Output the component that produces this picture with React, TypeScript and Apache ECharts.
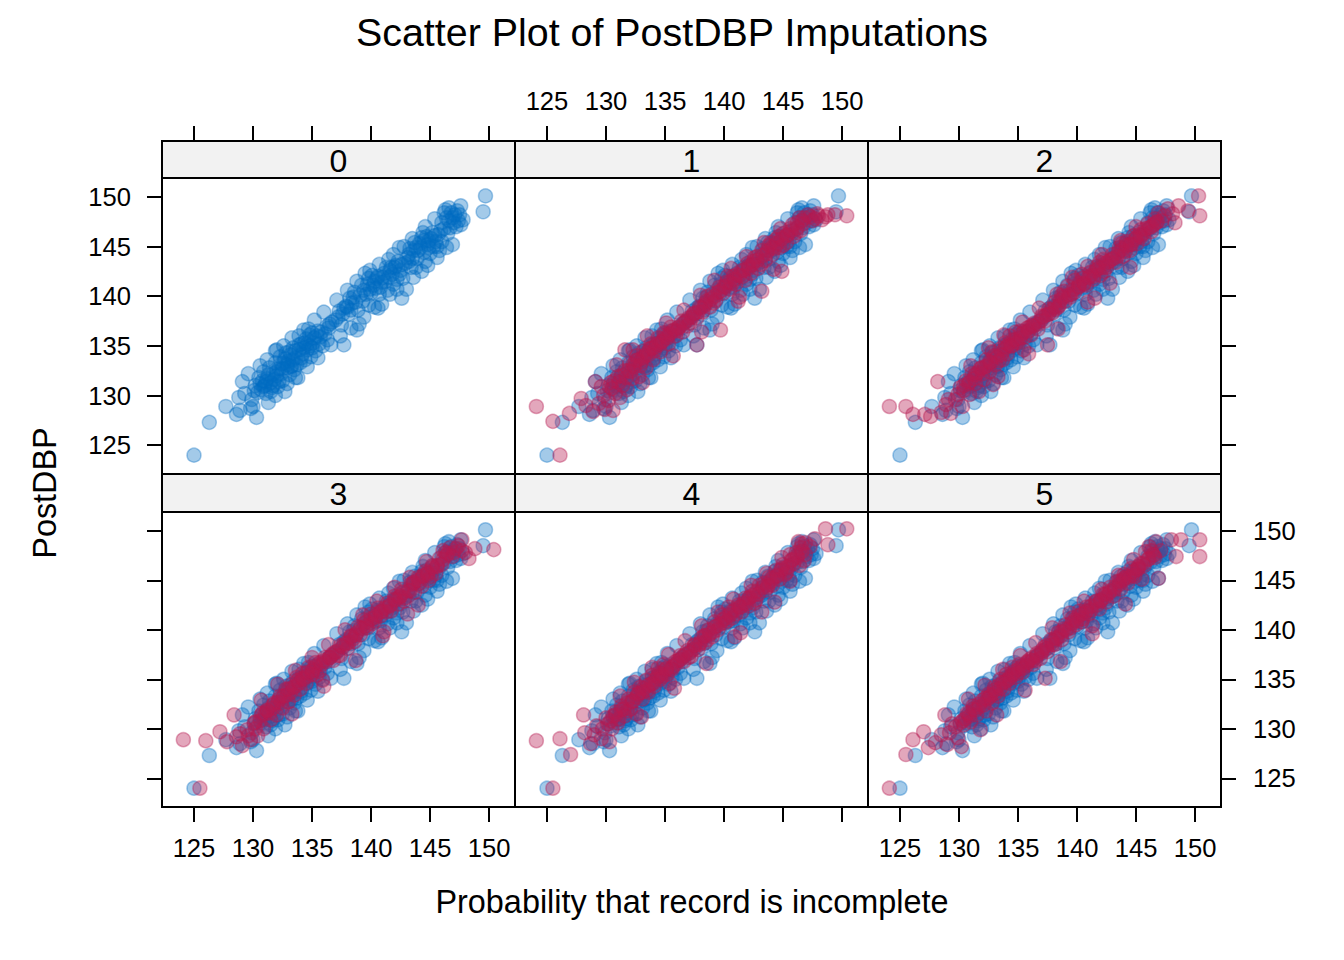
import React, { useEffect, useRef } from "react";
import * as echarts from "echarts";

const TITLE = "Scatter Plot of PostDBP Imputations";
const X_LABEL = "Probability that record is incomplete";
const Y_LABEL = "PostDBP";
const PANEL_LABELS = ["0", "1", "2", "3", "4", "5"];
const X_TICKS = [125, 130, 135, 140, 145, 150];
const Y_TICKS = [125, 130, 135, 140, 145, 150];

// observed (blue), identical in every panel
const OBSERVED: number[][] = [
  [125.0,124.0],[126.3,127.3],[127.7,128.9],[128.6,128.1],[128.8,129.8],[128.9,128.5],
  [129.1,131.4],[129.3,130.2],[129.6,132.2],[129.8,128.7],[130.0,128.9],[129.9,129.6],
  [130.3,127.8],[130.2,131.0],[130.4,130.3],[130.5,131.8],[130.7,130.6],[130.8,131.5],[130.9,132.4],
  [131.0,131.0],[131.1,130.2],[131.2,131.7],[131.3,129.3],[131.4,132.8],[131.5,131.3],[131.6,130.8],[131.7,132.2],[131.8,131.6],[131.9,133.3],
  [132.0,132.0],[132.0,134.6],[132.1,130.9],[132.2,132.7],[132.3,133.9],[132.4,132.2],[132.5,131.5],[132.6,133.3],[132.7,130.4],[132.8,134.3],[132.9,132.8],
  [133.0,133.5],[133.1,132.1],[133.2,134.1],[133.3,133.0],[133.4,134.8],[133.5,132.6],[133.6,133.8],[133.8,131.8],[133.9,136.0],[133.9,134.6],
  [134.0,133.3],[134.1,135.2],[134.2,134.2],[134.4,133.6],[134.5,135.7],[134.6,134.6],[134.7,136.7],[134.8,135.0],[134.9,133.9],
  [135.0,136.3],[135.1,135.3],[135.3,134.5],[135.4,136.0],[135.6,135.2],[135.8,136.4],[135.9,135.0],
  [136.1,136.2],[136.3,137.0],[136.4,136.8],[136.5,137.2],[136.3,135.6],[136.7,137.4],
  [137.0,137.6],[137.3,138.5],[137.5,137.1],[137.7,135.1],[137.7,138.8],[137.9,139.0],
  [138.1,138.2],[138.2,139.8],[138.4,139.3],[138.6,140.4],[138.8,136.6],[138.9,138.6],[139.0,137.2],
  [139.2,141.1],[139.3,139.5],[139.5,142.3],[139.6,140.2],[139.8,141.8],[139.8,139.1],[139.9,140.7],
  [140.1,142.1],[140.2,141.1],[140.4,140.8],[140.5,141.8],[140.6,138.8],[140.7,140.2],[140.9,139.2],[140.9,141.4],
  [141.1,142.3],[141.2,141.5],[141.4,140.6],[141.5,143.7],[141.6,142.6],[141.8,142.2],[141.9,141.2],
  [142.0,142.9],[142.2,141.7],[142.3,143.5],[142.5,142.6],[142.6,139.8],[142.7,141.8],[142.8,145.0],[142.9,143.3],
  [143.0,140.7],[143.2,144.2],[143.2,143.5],[143.4,142.9],[143.6,144.6],[143.8,142.9],[143.8,144.9],[143.9,143.8],
  [144.1,145.3],[144.3,145.9],[144.3,142.5],[144.4,146.4],[144.5,144.4],[144.6,143.5],[144.8,145.2],[144.9,145.6],
  [145.0,144.3],[145.2,146.4],[145.3,145.0],[145.5,145.5],[145.7,146.2],[145.8,144.6],[146.0,145.5],[146.0,147.4],
  [146.3,148.7],[146.5,146.3],[146.6,147.6],[146.6,148.9],[146.7,146.9],[146.9,145.2],[146.9,147.9],
  [147.1,148.2],[147.2,147.0],[147.4,147.6],[147.6,149.1],[147.6,147.2],
  [149.5,148.5],[149.7,150.1],
  [130.1,130.5],[130.6,131.2],[130.9,130.9],[131.1,131.4],[131.3,132.1],[131.5,130.4],[131.7,131.0],[132.0,132.4],[132.2,131.4],
  [132.4,133.2],[132.5,132.7],[132.7,133.7],[132.9,133.1],[133.1,134.4],[133.2,132.9],[133.4,133.6],[133.6,134.5],[133.7,133.1],
  [133.9,135.1],[134.1,133.8],[134.3,134.8],[134.4,135.3],[134.6,135.2],[134.8,136.1],[135.0,134.8],[135.2,135.8],[135.5,136.5],
  [135.7,135.9],[137.2,137.9],[137.6,138.2],[138.0,138.9],[138.3,138.6],[138.5,139.9],[138.7,139.4],[139.1,140.1],[139.4,140.6],
  [139.7,141.2],[140.0,140.3],[140.3,141.5],[140.6,142.0],[140.8,140.9],[141.0,141.9],[141.3,142.9],[141.5,141.9],[141.7,142.9],
  [142.1,143.1],[142.4,142.2],[142.6,143.2],[143.1,143.9],[143.3,144.8],[143.5,143.8],[143.7,145.4],[144.0,144.6],[144.2,144.9],
  [144.5,145.6],[144.7,146.0],[144.9,144.9],[145.1,145.8],[145.4,146.1],[145.6,145.0],[145.9,146.6],[146.2,146.8],[146.4,147.9],
  [146.8,148.4],[147.0,147.4],[147.3,148.6],[147.5,148.2],[147.8,147.7],
  [130.6,133.0],[131.2,133.6],[131.9,134.5],[132.6,135.0],[133.3,135.8],[134.3,136.6],[135.2,137.6],[136.0,138.4],[137.1,139.6],
  [138.0,140.6],[138.8,141.5],[139.9,142.6],[140.7,143.2],[141.9,144.2],[142.4,144.9],[143.5,145.8],[144.6,147.0],[145.4,147.8],
  [146.2,148.4],[131.9,130.0],[132.9,131.2],[133.6,131.8],[134.6,132.9],[135.5,133.8],[136.6,135.1],[137.4,136.0],[138.3,136.8],
  [139.4,137.9],[140.3,138.9],[141.6,140.2],[142.2,140.7],[143.6,141.9],[144.8,143.1],[145.6,143.9],[146.4,144.9],
];

// imputed (red), one array per imputation 1..5
const IMPUTED_1: number[][] = [
  [124.1,128.9],[125.5,127.4],[126.1,124.0],[126.9,128.2],[127.9,129.7],[129.1,131.4],[131.6,134.6],[137.7,135.1],[150.4,148.1],
  [128.3,129.0],[128.9,128.4],[129.4,129.2],[129.6,130.9],[129.9,128.6],[130.2,129.5],[130.4,131.3],[130.6,128.5],[130.8,130.2],
  [131.0,131.9],[131.2,129.8],[131.4,131.0],[131.6,132.5],[131.8,130.6],[132.0,133.2],[132.2,131.7],[132.4,132.9],[132.6,134.0],
  [132.8,131.9],[133.0,133.4],[133.2,134.5],[133.4,132.8],[133.6,134.1],[133.8,135.2],[134.0,133.6],[134.2,134.9],[134.4,135.8],
  [134.6,134.4],[134.8,135.5],[135.0,136.1],[135.3,135.2],[135.6,136.5],[135.9,136.0],[136.2,136.9],[136.5,136.4],[136.8,137.5],
  [137.1,137.3],[137.4,138.2],[137.7,137.8],[137.9,138.9],[138.2,138.4],[138.5,139.5],[138.8,138.9],[139.0,140.2],[139.3,139.6],
  [139.6,140.9],[139.7,136.6],[139.9,140.3],[140.2,141.4],[140.5,140.7],[140.8,142.0],[141.0,141.2],[141.3,139.9],[141.5,142.6],
  [141.8,141.6],[142.0,143.3],[142.3,142.3],[142.6,143.9],[142.9,142.8],[143.2,140.5],[143.2,144.6],[143.5,143.6],[143.8,145.1],
  [144.1,144.2],[144.4,145.7],[144.7,144.9],[144.9,142.5],[145.0,146.3],[145.3,145.4],[145.6,146.8],[145.9,146.0],[146.2,147.4],
  [146.5,146.6],[146.8,147.9],[147.1,148.2],[147.5,147.6],[147.9,148.3],[148.3,147.7],[148.8,148.2],[149.4,148.2],
  [129.8,130.0],[130.5,130.7],[131.1,131.3],[131.7,131.8],[132.1,132.4],[132.5,133.5],[132.9,133.0],[133.3,134.0],[133.7,134.7],
  [134.1,134.5],[134.5,135.1],[134.9,136.3],[135.2,135.8],[135.5,136.9],[136.0,136.5],[136.4,137.5],[136.9,137.0],[137.3,137.9],
  [137.8,138.4],[138.3,139.0],[138.6,140.0],[139.1,139.3],[139.5,140.4],[140.0,141.0],[140.3,142.0],[140.7,141.3],[141.1,142.2],
  [141.6,142.0],[142.1,142.8],[142.5,143.5],[142.8,144.0],[143.1,143.2],[143.6,144.3],[144.0,145.4],[144.3,144.8],[144.6,146.0],
  [145.0,145.1],[145.4,146.2],[145.8,147.2],[146.1,146.4],[146.4,147.9],[146.7,147.3],[147.3,148.0],[147.7,147.8],[148.0,148.1],
  [148.6,148.0],
  [130.9,133.1],[132.3,134.6],[133.5,136.0],[135.1,137.3],[136.6,138.6],[138.0,140.1],[139.2,141.6],[140.6,142.8],[141.9,144.0],
  [143.4,145.4],[144.8,146.8],[133.1,131.3],[135.7,134.0],[138.1,136.4],[141.2,139.5],[144.2,142.7],
  [130.3,130.9],[130.7,131.5],[131.3,132.0],[131.9,132.5],[132.3,133.1],[132.7,133.6],[133.1,133.8],[133.5,134.3],[133.9,134.8],
  [134.3,135.2],[134.7,135.4],[135.1,135.9],[135.4,136.2],[135.8,136.6],[136.1,136.8],[136.6,137.3],[137.0,137.8],[137.5,138.3],
  [138.0,138.8],[138.4,139.2],[138.9,139.7],[139.2,140.0],[139.7,140.5],[140.1,140.9],[140.5,141.4],[140.9,141.7],[141.3,142.1],
  [141.7,142.6],[142.1,143.0],[142.4,143.2],[142.8,143.6],[143.3,144.1],[143.7,144.6],[144.1,144.9],[144.5,145.3],[144.9,145.8],
  [145.3,146.1],[145.7,146.6],[146.2,146.9],[146.6,147.6],
];
const IMPUTED_2: number[][] = [
  [124.1,128.9],[125.5,128.9],[126.1,128.1],[127.1,128.1],[127.6,127.9],[128.2,131.4],[137.5,135.1],[148.3,147.4],[148.6,149.1],
  [149.4,148.6],[150.3,150.1],[150.4,148.1],
  [128.5,128.3],[128.9,129.1],[129.3,128.2],[129.7,129.6],[130.1,130.8],[130.3,128.9],[130.6,131.5],[130.9,130.1],[131.1,132.2],
  [131.4,131.2],[131.7,130.4],[131.9,132.8],[132.1,131.6],[132.3,133.6],[132.6,132.4],[132.8,134.4],[133.1,133.1],[133.3,131.9],
  [133.5,134.7],[133.7,133.6],[133.9,135.3],[134.1,134.2],[134.3,136.0],[134.5,135.0],[134.8,136.4],[135.0,135.3],[135.3,136.2],
  [135.5,134.6],[135.8,136.8],[136.1,136.1],[136.4,137.3],[136.7,136.7],[137.0,138.0],[137.3,137.5],[137.6,138.7],[137.9,138.3],
  [138.1,139.4],[138.4,138.9],[138.7,140.1],[139.0,139.5],[139.2,141.0],[139.5,140.2],[139.8,141.6],[140.1,140.9],[140.4,142.2],
  [140.6,141.3],[140.9,139.4],[141.1,142.4],[141.4,141.7],[141.7,143.0],[142.0,142.1],[142.2,143.7],[142.5,142.9],[142.8,141.3],
  [143.0,144.2],[143.3,143.4],[143.6,144.9],[143.9,144.0],[144.2,145.5],[144.5,144.6],[144.8,146.1],[145.1,145.3],[145.4,146.7],
  [145.7,145.8],[146.0,147.3],[146.3,146.5],[146.6,147.8],[146.9,148.4],[147.2,147.6],[147.7,148.8],[148.1,148.3],
  [129.1,129.6],[129.9,130.1],[130.4,130.5],[130.8,131.2],[131.3,131.7],[131.6,132.3],[132.0,132.2],[132.4,133.0],[132.7,133.3],
  [133.0,134.0],[133.4,133.5],[133.8,134.6],[134.2,135.1],[134.6,135.6],[134.9,135.4],[135.2,136.5],[135.6,135.9],[136.0,136.9],
  [136.3,137.0],[136.9,137.5],[137.4,138.1],[137.8,138.6],[138.2,138.7],[138.6,139.6],[138.9,140.5],[139.4,139.9],[139.7,140.7],
  [140.2,141.3],[140.5,141.8],[140.8,141.1],[141.2,142.1],[141.6,142.6],[141.9,143.4],[142.3,142.5],[142.7,143.5],[143.1,143.8],
  [143.5,144.4],[143.8,145.3],[144.1,144.5],[144.5,145.2],[144.9,145.7],[145.3,146.2],[145.6,146.3],[146.1,146.9],[146.5,147.2],
  [146.8,147.5],[147.4,148.1],
  [131.0,133.0],[132.5,134.8],[133.8,136.1],[135.4,137.4],[136.8,138.8],[138.3,140.2],[139.6,141.9],[140.9,143.0],[142.1,144.2],
  [143.7,145.6],[145.0,147.0],[132.9,131.1],[135.9,134.2],[138.4,136.7],[141.5,139.8],[144.5,142.9],
  [130.4,131.0],[130.9,131.4],[131.4,132.1],[131.8,132.7],[132.2,132.9],[132.6,133.4],[133.2,133.9],[133.6,134.1],[134.0,134.9],
  [134.4,135.0],[134.8,135.6],[135.2,135.8],[135.5,136.4],[135.9,136.5],[136.2,137.1],[136.7,137.2],[137.1,137.9],[137.6,138.2],
  [138.1,138.9],[138.5,139.1],[138.8,139.9],[139.3,140.1],[139.8,140.4],[140.2,141.0],[140.6,141.2],[141.0,141.9],[141.4,142.0],
  [141.8,142.8],[142.2,142.9],[142.5,143.4],[142.9,143.7],[143.4,144.0],[143.8,144.7],[144.2,145.1],[144.6,145.2],[145.0,145.9],
  [145.4,146.0],[145.8,146.8],[146.3,147.0],[146.7,147.4],
];
const IMPUTED_3: number[][] = [
  [124.1,128.9],[125.5,124.0],[126.0,128.8],[127.2,129.7],[128.4,131.4],[147.7,149.1],[148.3,147.2],[148.8,148.2],[150.4,148.1],
  [127.8,128.7],[128.6,129.2],[129.1,128.3],[129.5,129.9],[129.8,128.9],[130.1,130.6],[130.4,129.3],[130.7,131.4],[130.9,130.0],
  [131.2,131.9],[131.5,130.9],[131.8,132.6],[132.0,131.4],[132.3,133.3],[132.5,132.1],[132.8,134.0],[133.0,132.7],[133.3,134.5],
  [133.5,133.4],[133.7,135.2],[134.0,134.0],[134.2,135.6],[134.5,134.6],[134.7,136.2],[135.0,135.5],[135.3,136.7],[135.6,135.8],
  [135.9,134.9],[136.2,136.8],[136.5,137.2],[136.8,136.9],[137.1,137.8],[137.4,137.4],[137.7,138.6],[138.0,138.1],[138.3,139.4],
  [138.6,138.8],[138.9,140.3],[139.1,139.5],[139.4,141.0],[139.7,140.2],[140.0,141.6],[140.3,140.9],[140.6,142.2],[140.8,141.4],
  [141.1,139.8],[141.4,142.7],[141.7,141.9],[142.0,143.4],[142.3,142.6],[142.6,144.1],[142.9,143.2],[143.1,141.6],[143.4,144.6],
  [143.7,143.8],[144.0,145.3],[144.3,144.4],[144.6,145.9],[144.9,145.0],[145.2,146.5],[145.5,145.7],[145.8,147.2],[146.1,148.0],
  [146.4,147.5],[146.7,148.3],[147.0,147.8],[147.4,148.5],[148.0,147.8],
  [128.9,129.5],[129.6,129.3],[130.2,130.0],[130.6,130.8],[131.0,131.5],[131.4,131.6],[131.7,132.1],[132.1,132.7],[132.4,132.6],
  [132.9,133.4],[133.2,133.7],[133.6,134.3],[133.9,134.6],[134.3,135.0],[134.6,135.3],[135.1,136.0],[135.4,135.4],[135.8,136.5],
  [136.1,137.2],[136.7,137.5],[137.2,137.4],[137.6,138.3],[138.1,138.7],[138.5,139.1],[138.8,139.7],[139.3,140.1],[139.6,140.8],
  [140.1,140.6],[140.4,141.5],[140.9,141.9],[141.3,141.8],[141.6,142.4],[142.1,143.0],[142.5,143.4],[142.8,142.9],[143.3,143.9],
  [143.6,144.7],[144.1,144.7],[144.4,145.4],[144.8,145.8],[145.1,145.4],[145.6,146.4],[146.0,146.6],[146.3,147.8],[146.9,147.4],
  [147.2,148.2],[147.7,148.0],
  [130.7,132.9],[132.1,134.5],[133.6,135.9],[135.0,137.2],[136.4,138.5],[137.8,140.0],[139.3,141.5],[140.5,142.9],[142.0,144.3],
  [143.3,145.3],[144.7,146.9],[133.3,131.5],[136.0,134.3],[138.7,136.9],[141.0,139.4],[144.0,142.5],
  [130.2,130.7],[130.8,131.6],[131.2,131.8],[131.7,132.4],[132.2,133.0],[132.6,133.3],[133.0,134.0],[133.4,134.2],[133.8,134.9],
  [134.2,135.1],[134.6,135.7],[135.0,135.8],[135.3,136.3],[135.7,136.7],[136.0,136.9],[136.5,137.2],[136.9,137.7],[137.4,138.4],
  [137.9,138.6],[138.3,139.3],[138.7,139.5],[139.1,140.2],[139.6,140.4],[140.0,141.1],[140.4,141.3],[140.8,141.8],[141.2,142.2],
  [141.6,142.5],[142.0,143.1],[142.4,143.3],[142.7,143.8],[143.2,144.0],[143.6,144.8],[144.0,145.0],[144.4,145.5],[144.8,145.6],
  [145.2,146.3],[145.6,146.5],[146.1,147.1],[146.5,147.7],
];
const IMPUTED_4: number[][] = [
  [124.1,128.8],[125.5,124.0],[126.1,129.0],[127.0,127.4],[128.1,131.4],[145.6,147.6],[146.3,148.9],[147.7,149.2],[148.6,150.2],
  [148.8,148.6],[150.4,150.2],[146.6,148.7],[146.9,148.8],
  [128.2,129.6],[128.7,128.5],[129.2,130.3],[129.6,129.0],[130.0,131.1],[130.3,128.7],[130.5,130.0],[130.8,131.7],[131.0,130.6],
  [131.3,132.3],[131.6,131.3],[131.9,133.0],[132.1,132.0],[132.4,133.7],[132.6,131.5],[132.9,134.2],[133.1,133.0],[133.4,134.9],
  [133.6,133.7],[133.9,135.4],[134.1,134.3],[134.4,136.1],[134.6,135.0],[134.9,136.5],[135.2,135.5],[135.4,134.6],[135.7,136.3],
  [136.0,136.6],[136.3,137.4],[136.6,136.8],[136.9,137.9],[137.2,137.3],[137.5,138.4],[137.8,138.0],[138.1,139.2],[138.4,138.7],
  [138.7,140.0],[139.0,139.3],[139.2,140.8],[139.5,140.0],[139.8,141.5],[140.1,140.7],[140.4,142.3],[140.7,141.2],[140.9,139.3],
  [141.2,142.5],[141.5,141.8],[141.8,143.2],[142.1,142.4],[142.4,143.9],[142.7,143.0],[143.0,144.5],[143.2,141.8],[143.5,144.0],
  [143.8,145.3],[144.1,144.5],[144.4,146.0],[144.7,145.1],[145.0,146.6],[145.3,145.8],[145.6,144.9],[145.9,146.7],[146.2,147.3],
  [146.4,146.5],[146.8,147.0],
  [129.0,129.4],[129.7,130.0],[130.2,130.5],[130.6,131.3],[131.1,131.0],[131.5,132.0],[131.8,131.8],[132.2,132.8],[132.6,133.2],
  [132.8,133.6],[133.2,134.1],[133.5,133.9],[133.8,134.5],[134.2,135.0],[134.5,135.6],[134.8,135.3],[135.1,136.1],[135.6,136.0],
  [136.1,136.9],[136.5,137.3],[137.0,137.2],[137.4,138.0],[137.9,138.5],[138.3,139.4],[138.6,139.0],[139.1,139.8],[139.4,140.4],
  [139.9,141.0],[140.3,140.9],[140.6,141.8],[141.0,141.6],[141.4,142.3],[141.9,142.6],[142.2,143.3],[142.6,142.7],[142.9,143.6],
  [143.4,144.7],[143.7,144.3],[144.0,144.9],[144.5,145.5],[144.8,146.0],[145.2,145.6],[145.5,146.4],[145.8,147.1],[146.1,147.8],
  [146.5,148.3],[146.9,147.6],[147.3,148.4],
  [131.2,133.3],[132.4,134.7],[133.9,136.2],[135.3,137.5],[136.7,138.9],[138.1,140.4],[139.5,141.8],[140.8,143.1],[142.3,144.5],
  [143.6,145.7],[144.9,147.3],[133.0,131.2],[135.8,134.1],[138.5,136.6],[141.4,139.7],[144.3,142.8],
  [130.4,130.8],[130.8,131.4],[131.3,131.9],[131.8,132.6],[132.3,132.8],[132.7,133.5],[133.1,133.7],[133.6,134.4],[134.0,134.6],
  [134.4,135.3],[134.7,135.5],[135.1,136.0],[135.5,136.1],[135.9,136.8],[136.3,137.0],[136.7,137.5],[137.1,137.7],[137.5,138.5],
  [138.0,138.7],[138.4,139.4],[138.8,139.6],[139.2,140.3],[139.7,140.6],[140.1,141.2],[140.5,141.5],[140.9,142.0],[141.3,142.3],
  [141.7,142.7],[142.1,143.2],[142.5,143.5],[142.8,143.9],[143.3,144.3],[143.7,144.5],[144.1,145.2],[144.5,145.4],[144.9,146.2],
  [145.3,146.3],[145.7,147.0],[146.2,147.5],[146.6,147.9],
];
const IMPUTED_5: number[][] = [
  [124.1,124.0],[125.5,127.4],[126.1,128.9],[127.0,129.7],[127.4,128.1],[128.8,131.4],[137.3,135.1],[146.9,145.2],[148.0,149.1],
  [148.4,147.4],[148.8,149.1],[150.4,149.1],[150.4,147.4],
  [128.0,128.6],[128.5,129.4],[129.0,128.4],[129.4,130.5],[129.9,129.1],[130.2,128.2],[130.4,130.4],[130.7,131.6],[131.0,130.7],
  [131.2,132.3],[131.5,131.4],[131.8,129.9],[132.0,132.9],[132.3,131.8],[132.5,133.5],[132.8,132.6],[133.0,134.2],[133.3,133.3],
  [133.5,135.0],[133.8,134.0],[134.0,135.5],[134.3,134.6],[134.5,136.2],[134.8,135.2],[135.1,136.5],[135.4,135.7],[135.7,136.4],
  [136.0,137.0],[136.3,136.5],[136.6,137.6],[136.9,137.1],[137.2,138.2],[137.5,137.8],[137.8,139.0],[138.1,138.5],[138.4,139.7],
  [138.7,139.0],[139.0,140.5],[139.3,139.8],[139.6,141.2],[139.9,140.5],[140.2,141.9],[140.5,141.1],[140.8,142.3],[141.0,141.6],
  [141.3,140.4],[141.6,142.9],[141.9,142.1],[142.2,143.6],[142.5,142.8],[142.8,144.3],[143.1,143.4],[143.4,144.9],[143.7,144.1],
  [144.0,145.6],[144.3,144.7],[144.6,146.2],[144.9,145.4],[145.2,146.4],[145.5,145.1],[145.8,147.9],[146.1,148.4],[146.4,147.6],
  [146.7,148.9],[147.1,148.0],
  [129.2,129.6],[129.7,130.2],[130.1,130.6],[130.5,131.0],[130.9,131.3],[131.4,131.9],[131.7,132.2],[132.1,132.4],[132.4,133.0],
  [132.7,133.4],[133.1,133.6],[133.4,134.4],[133.7,134.7],[134.1,134.9],[134.4,135.4],[134.7,135.8],[135.0,135.6],[135.3,136.3],
  [135.8,136.7],[136.2,137.2],[136.5,136.9],[137.0,137.7],[137.4,138.4],[137.9,138.5],[138.2,139.2],[138.6,139.4],[138.9,140.1],
  [139.4,140.2],[139.8,141.0],[140.1,141.4],[140.4,140.8],[140.7,141.7],[141.2,142.4],[141.7,142.5],[142.0,142.9],[142.4,143.3],
  [142.7,143.7],[143.2,144.3],[143.6,144.6],[143.9,145.0],[144.2,145.4],[144.7,145.5],[145.1,146.1],[145.4,146.7],[145.7,146.5],
  [146.0,147.1],[146.3,148.0],[146.6,147.3],
  [130.8,133.0],[132.2,134.4],[133.7,136.0],[135.2,137.4],[136.5,138.7],[137.9,140.2],[139.4,141.7],[140.6,142.9],[142.1,144.1],
  [143.5,145.5],[144.8,147.1],[133.2,131.4],[135.6,133.9],[138.6,136.8],[141.3,139.6],[144.1,142.6],
  [130.3,130.8],[130.8,131.5],[131.2,132.0],[131.7,132.5],[132.2,133.1],[132.6,133.2],[133.0,133.9],[133.5,134.1],[133.9,134.7],
  [134.3,135.1],[134.6,135.5],[135.0,136.0],[135.4,136.1],[135.8,136.8],[136.2,136.9],[136.6,137.4],[137.0,137.9],[137.4,138.1],
  [137.9,138.8],[138.3,139.1],[138.7,139.8],[139.1,140.0],[139.6,140.7],[140.0,140.9],[140.4,141.6],[140.8,141.9],[141.2,142.0],
  [141.6,142.8],[142.0,143.0],[142.4,143.6],[142.8,143.9],[143.2,144.1],[143.6,144.9],[144.0,145.2],[144.4,145.3],[144.8,145.9],
  [145.2,146.2],[145.6,146.7],[146.1,147.2],[146.5,147.5],
];
const IMPUTED = [IMPUTED_1, IMPUTED_2, IMPUTED_3, IMPUTED_4, IMPUTED_5];

const FONT = '"Liberation Sans", Arial, Helvetica, sans-serif';
const BLUE = "rgba(0,108,194,0.45)";
const RED = "rgba(182,26,81,0.48)";

export default function App() {
  const ref = useRef<HTMLDivElement>(null);
  useEffect(() => {
    document.body.style.margin = "0";
    if (!ref.current) return;
    const chart = echarts.init(ref.current, undefined, { renderer: "svg" });

    const X_MIN = 122.29, X_MAX = 152.2, Y_MIN = 122.1, Y_MAX = 151.9;
    const colLeft = [162, 515, 868];
    const colW = 353;
    const rowTop = [178, 512];
    const rowH = [296, 295];
    const stripTop = [141, 474];
    const stripH = [37, 38];

    const grids: any[] = [];
    for (let r = 0; r < 2; r++)
      for (let c = 0; c < 3; c++)
        grids.push({
          left: colLeft[c], top: rowTop[r], width: colW, height: rowH[r],
          show: true, borderColor: "#000", borderWidth: 2, backgroundColor: "transparent",
        });
    for (let c = 0; c < 3; c++)
      grids.push({ left: colLeft[c], top: 141, width: colW, height: 333, show: false });

    const tickStyle = { color: "#000", width: 2 };
    const labelStyle = { color: "#000", fontSize: 25.6, fontFamily: FONT };
    const xAx = (gridIndex: number, position: string, ticks: boolean, labels: boolean, margin: number) => ({
      type: "value", gridIndex, position, min: X_MIN, max: X_MAX,
      axisLine: { show: false }, splitLine: { show: false },
      axisTick: { show: ticks, inside: false, length: 15, customValues: X_TICKS, lineStyle: tickStyle },
      axisLabel: { show: labels, customValues: X_TICKS, margin, ...labelStyle },
    });
    const yAx = (gridIndex: number, position: string, ticks: boolean, labels: boolean, margin: number) => ({
      type: "value", gridIndex, position, min: Y_MIN, max: Y_MAX,
      axisLine: { show: false }, splitLine: { show: false },
      axisTick: { show: ticks, inside: false, length: 15, customValues: Y_TICKS, lineStyle: tickStyle },
      axisLabel: { show: labels, customValues: Y_TICKS, margin, ...labelStyle },
    });

    const xAxis: any[] = [];
    for (let i = 0; i < 6; i++) {
      const row2 = i >= 3;
      const c = i % 3;
      xAxis.push(xAx(i, "bottom", row2, row2 && c !== 1, 28));
    }
    for (let c = 0; c < 3; c++) xAxis.push(xAx(6 + c, "top", true, c === 1, 27));

    const yAxis: any[] = [];
    for (let i = 0; i < 6; i++) {
      const c = i % 3;
      yAxis.push(yAx(i, "left", c === 0, i === 0, 31));
    }
    yAxis.push(yAx(2, "right", true, false, 32));
    yAxis.push(yAx(5, "right", true, true, 32));
    for (let c = 0; c < 3; c++) yAxis.push({ ...yAx(6 + c, "left", false, false, 0), show: false });

    const series: any[] = [];
    for (let i = 0; i < 6; i++) {
      series.push({
        type: "scatter", xAxisIndex: i, yAxisIndex: i, data: OBSERVED, symbolSize: 14, silent: true,
        itemStyle: { color: BLUE, borderColor: BLUE, borderWidth: 1.5 },
      });
      if (i > 0)
        series.push({
          type: "scatter", xAxisIndex: i, yAxisIndex: i, data: IMPUTED[i - 1], symbolSize: 14, silent: true,
          itemStyle: { color: RED, borderColor: RED, borderWidth: 1.5 },
        });
    }

    const graphic: any[] = [];
    for (let r = 0; r < 2; r++)
      for (let c = 0; c < 3; c++) {
        graphic.push({
          type: "rect", shape: { x: colLeft[c], y: stripTop[r], width: colW, height: stripH[r] },
          style: { fill: "#f2f2f2", stroke: "#000", lineWidth: 2 }, z: 10,
        });
        graphic.push({
          type: "text", x: colLeft[c] + colW / 2, y: stripTop[r] + stripH[r] / 2 + 1, z: 11,
          style: { text: PANEL_LABELS[r * 3 + c], align: "center", verticalAlign: "middle", fontSize: 32, fontFamily: FONT, fill: "#000" },
        });
      }
    graphic.push({
      type: "text", x: 672, y: 32,
      style: { text: TITLE, align: "center", verticalAlign: "middle", fontSize: 39.4, fontFamily: FONT, fill: "#000" },
    });
    graphic.push({
      type: "text", x: 692, y: 902,
      style: { text: X_LABEL, align: "center", verticalAlign: "middle", fontSize: 32.4, fontFamily: FONT, fill: "#000" },
    });
    graphic.push({
      type: "text", x: 45, y: 493, rotation: Math.PI / 2,
      style: { text: Y_LABEL, align: "center", verticalAlign: "middle", fontSize: 32.4, fontFamily: FONT, fill: "#000" },
    });

    chart.setOption({ animation: false, backgroundColor: "#fff", grid: grids, xAxis, yAxis, series, graphic });
    return () => chart.dispose();
  }, []);
  return <div ref={ref} style={{ width: 1344, height: 960 }} />;
}
